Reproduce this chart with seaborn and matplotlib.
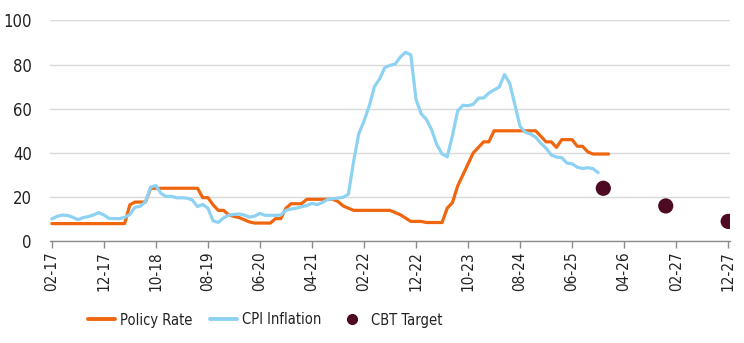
import numpy as np
import pandas as pd
import matplotlib
matplotlib.use("Agg")
import matplotlib.pyplot as plt
import seaborn as sns
from matplotlib.lines import Line2D

# ---------------- data ----------------
start_month = "2017-02"
policy_rate = (
    [8] * 15 + [16.5] + [17.75] * 3 + [24] * 10 + [19.75] * 2 + [16.5] + [14] * 2 +
    [12, 11.25, 10.75, 9.75, 8.75] + [8.25] * 4 + [10.25] * 2 + [15] + [17] * 3 +
    [19] * 6 + [18, 16, 15] + [14] * 8 + [13, 12, 10.5] + [9] * 3 + [8.5] * 4 +
    [15, 17.5, 25, 30, 35, 40, 42.5] + [45] * 2 + [50] * 9 + [47.5] + [45] * 2 +
    [42.5] + [46] * 3 + [43] * 2 + [40.5] + [39.5] * 4
)
cpi_inflation = [
    10.13, 11.29, 11.87, 11.72, 10.90, 9.79, 10.68, 11.20, 11.90, 12.98, 11.92,
    10.35, 10.26, 10.23, 10.85, 12.15, 15.39, 15.85, 17.90, 24.52, 25.24, 21.62, 20.30,
    20.35, 19.67, 19.71, 19.50, 18.71, 15.72, 16.65, 15.01, 9.26, 8.55, 10.56, 11.84,
    12.15, 12.37, 11.86, 10.94, 11.39, 12.62, 11.76, 11.77, 11.75, 11.89, 14.03, 14.60,
    14.97, 15.61, 16.19, 17.14, 16.59, 17.53, 18.95, 19.25, 19.58, 19.89, 21.31, 36.08,
    48.69, 54.44, 61.14, 69.97, 73.50, 78.62, 79.60, 80.21, 83.45, 85.51, 84.39, 64.27,
    57.68, 55.18, 50.51, 43.68, 39.59, 38.21, 47.83, 58.94, 61.53, 61.36, 61.98, 64.77,
    64.86, 67.07, 68.50, 69.80, 75.45, 71.60, 61.78, 51.97, 49.38, 48.58, 47.09, 44.38,
    42.12, 39.05, 38.10, 37.86, 35.41, 35.05, 33.52, 32.95, 33.29, 32.87, 31.07,
]
target_months = ["2025-12", "2026-12", "2027-12"]
cbt_target = [24, 16, 9]
tick_labels = ["02-17", "12-17", "10-18", "08-19", "06-20", "04-21", "02-22",
               "12-22", "10-23", "08-24", "06-25", "04-26", "02-27", "12-27"]

# ---------------- frames ----------------
p0 = pd.Period(start_month, freq="M")
def month_index(periods):
    return [(p - p0).n for p in periods]

df_policy = pd.DataFrame({
    "m": month_index(pd.period_range(start_month, periods=len(policy_rate), freq="M")),
    "v": policy_rate})
df_cpi = pd.DataFrame({
    "m": month_index(pd.period_range(start_month, periods=len(cpi_inflation), freq="M")),
    "v": cpi_inflation})
df_target = pd.DataFrame({
    "m": month_index([pd.Period(t, freq="M") for t in target_months]),
    "v": cbt_target})

ORANGE = "#F0660F"
BLUE = "#8DD2F2"
DOT = "#4E0A22"
TXT = "#222222"

sns.set_theme(style="white")
plt.rcParams["font.family"] = ["DejaVu Sans"]
plt.rcParams["font.stretch"] = "condensed"

fig = plt.figure(figsize=(7.44, 3.43), dpi=100)
ax = fig.add_axes([50 / 744, 1 - 241.3 / 343, 680 / 744, (241.3 - 20.3) / 343])

sns.lineplot(data=df_policy, x="m", y="v", ax=ax, color=ORANGE, linewidth=2.3, zorder=3)
sns.lineplot(data=df_cpi, x="m", y="v", ax=ax, color=BLUE, linewidth=2.3, zorder=4)
sns.scatterplot(data=df_target, x="m", y="v", ax=ax, color=DOT, s=120,
                edgecolor="none", zorder=5)

ax.set_xlim(-0.35, 130.35)
ax.set_ylim(0, 100)
ax.set_xticks(np.arange(0, 131, 10))
ax.set_xticklabels(tick_labels, rotation=90, fontsize=11, color=TXT)
ax.set_yticks([0, 20, 40, 60, 80, 100])
ax.set_yticklabels(["0", "20", "40", "60", "80", "100"], fontsize=12, color=TXT)
ax.set_xlabel("")
ax.set_ylabel("")

ax.grid(axis="y", color="#D9D9D9", linewidth=1.0)
ax.grid(axis="x", visible=False)
ax.set_axisbelow(True)
for s in ["top", "right", "left"]:
    ax.spines[s].set_visible(False)
ax.spines["bottom"].set_color("#8C8C8C")
ax.spines["bottom"].set_linewidth(1.0)
ax.tick_params(axis="x", bottom=True, length=5, width=1, color="#8C8C8C", pad=2)
ax.tick_params(axis="y", left=False, length=0, pad=13)

handles = [
    Line2D([0], [0], color=ORANGE, lw=2.8),
    Line2D([0], [0], color=BLUE, lw=2.8),
    Line2D([0], [0], color=DOT, lw=0, marker="o", markersize=7),
]
fig.legend(handles, ["Policy Rate", "CPI Inflation", "CBT Target"],
           loc="center", bbox_to_anchor=(265 / 744, 1 - 320 / 343), ncol=3,
           frameon=False, fontsize=10.5, handlelength=1.85, columnspacing=1.2,
           handletextpad=0.35, labelcolor=TXT)

fig.savefig("out.png", dpi=100)
